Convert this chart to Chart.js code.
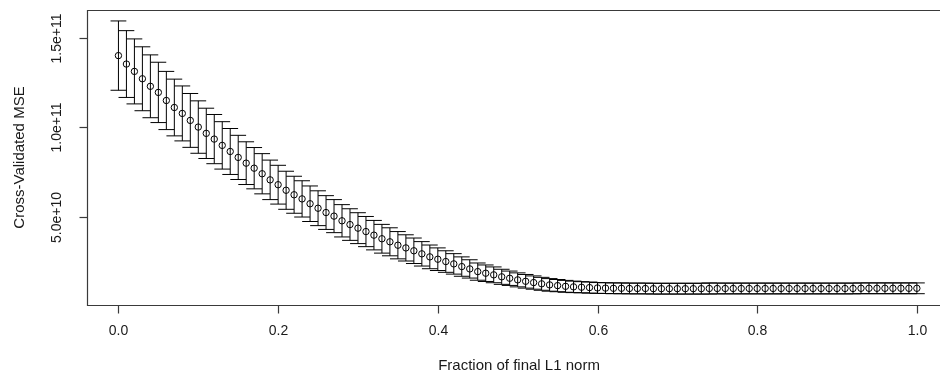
<!DOCTYPE html>
<html>
<head>
<meta charset="utf-8">
<title>Cross-validated MSE</title>
<script src="https://cdn.jsdelivr.net/npm/chart.js@4.4.1/dist/chart.umd.min.js"></script>
<style>
  html, body { margin: 0; padding: 0; background: #fff; }
  #wrap { position: relative; width: 940px; height: 377px; }
</style>
</head>
<body>
<div id="wrap"><canvas id="cvChart" width="940" height="377"></canvas></div>
<script>
// fraction of final L1 norm
const fractions = [
  0.00, 0.01, 0.02, 0.03, 0.04, 0.05, 0.06, 0.07, 0.08, 0.09,
  0.10, 0.11, 0.12, 0.13, 0.14, 0.15, 0.16, 0.17, 0.18, 0.19,
  0.20, 0.21, 0.22, 0.23, 0.24, 0.25, 0.26, 0.27, 0.28, 0.29,
  0.30, 0.31, 0.32, 0.33, 0.34, 0.35, 0.36, 0.37, 0.38, 0.39,
  0.40, 0.41, 0.42, 0.43, 0.44, 0.45, 0.46, 0.47, 0.48, 0.49,
  0.50, 0.51, 0.52, 0.53, 0.54, 0.55, 0.56, 0.57, 0.58, 0.59,
  0.60, 0.61, 0.62, 0.63, 0.64, 0.65, 0.66, 0.67, 0.68, 0.69,
  0.70, 0.71, 0.72, 0.73, 0.74, 0.75, 0.76, 0.77, 0.78, 0.79,
  0.80, 0.81, 0.82, 0.83, 0.84, 0.85, 0.86, 0.87, 0.88, 0.89,
  0.90, 0.91, 0.92, 0.93, 0.94, 0.95, 0.96, 0.97, 0.98, 0.99,
  1.00
];

// cross-validated MSE
const cvMse = [
  14.00e10, 13.53e10, 13.12e10, 12.71e10, 12.29e10, 11.95e10, 11.50e10, 11.11e10, 10.78e10, 10.39e10,
  10.02e10, 9.67e10, 9.35e10, 9.00e10, 8.66e10, 8.33e10, 8.01e10, 7.73e10, 7.42e10, 7.08e10,
  6.81e10, 6.50e10, 6.25e10, 6.02e10, 5.75e10, 5.50e10, 5.26e10, 5.06e10, 4.80e10, 4.59e10,
  4.39e10, 4.20e10, 4.00e10, 3.80e10, 3.63e10, 3.44e10, 3.29e10, 3.13e10, 2.96e10, 2.79e10,
  2.66e10, 2.53e10, 2.40e10, 2.25e10, 2.12e10, 1.97e10, 1.88e10, 1.79e10, 1.68e10, 1.60e10,
  1.51e10, 1.43e10, 1.36e10, 1.29e10, 1.23e10, 1.19e10, 1.15e10, 1.12e10, 1.10e10, 1.08e10,
  1.06e10, 1.05e10, 1.04e10, 1.04e10, 1.03e10, 1.03e10, 1.03e10, 1.02e10, 1.02e10, 1.02e10,
  1.02e10, 1.02e10, 1.02e10, 1.02e10, 1.03e10, 1.03e10, 1.03e10, 1.03e10, 1.03e10, 1.03e10,
  1.03e10, 1.03e10, 1.03e10, 1.03e10, 1.03e10, 1.03e10, 1.03e10, 1.03e10, 1.03e10, 1.03e10,
  1.03e10, 1.03e10, 1.03e10, 1.04e10, 1.04e10, 1.04e10, 1.04e10, 1.04e10, 1.04e10, 1.04e10,
  1.04e10
];

// standard error of the CV estimate (half height of each bar)
const cvError = [
  1.93e10, 1.86e10, 1.81e10, 1.78e10, 1.75e10, 1.68e10, 1.62e10, 1.58e10, 1.53e10, 1.50e10,
  1.46e10, 1.40e10, 1.37e10, 1.32e10, 1.28e10, 1.23e10, 1.19e10, 1.15e10, 1.12e10, 1.10e10,
  1.08e10, 1.06e10, 1.03e10, 1.01e10, 0.99e10, 0.97e10, 0.94e10, 0.92e10, 0.90e10, 0.88e10,
  0.86e10, 0.84e10, 0.82e10, 0.80e10, 0.78e10, 0.76e10, 0.73e10, 0.71e10, 0.68e10, 0.66e10,
  0.63e10, 0.60e10, 0.57e10, 0.54e10, 0.51e10, 0.48e10, 0.46e10, 0.44e10, 0.42e10, 0.40e10,
  0.39e10, 0.38e10, 0.37e10, 0.36e10, 0.35e10, 0.34e10, 0.33e10, 0.32e10, 0.31e10, 0.31e10,
  0.30e10, 0.30e10, 0.30e10, 0.30e10, 0.30e10, 0.30e10, 0.30e10, 0.30e10, 0.30e10, 0.30e10,
  0.30e10, 0.30e10, 0.30e10, 0.30e10, 0.31e10, 0.30e10, 0.30e10, 0.30e10, 0.30e10, 0.30e10,
  0.30e10, 0.30e10, 0.30e10, 0.30e10, 0.30e10, 0.30e10, 0.30e10, 0.30e10, 0.30e10, 0.30e10,
  0.30e10, 0.30e10, 0.30e10, 0.30e10, 0.30e10, 0.30e10, 0.30e10, 0.30e10, 0.30e10, 0.30e10,
  0.30e10
];

const xTicks = [0, 0.2, 0.4, 0.6, 0.8, 1.0];
const xTickLabels = ['0.0', '0.2', '0.4', '0.6', '0.8', '1.0'];
const yTicks = [5e10, 1e11, 1.5e11];
const yTickLabels = ['5.0e+10', '1.0e+11', '1.5e+11'];

const xTitle = 'Fraction of final L1 norm';
const yTitle = 'Cross-Validated MSE';

const TICK_FONT = '14px "Liberation Sans", Arial, sans-serif';
const TITLE_FONT = '15px "Liberation Sans", Arial, sans-serif';
const INK = '#000';
const FRAME = '#3a3a3a';

// vertical bar + caps at each point, caps span one step each side
const errorBars = {
  id: 'errorBars',
  beforeDatasetsDraw(chart) {
    const { ctx, chartArea, scales: { x, y } } = chart;
    const capHalf = 1 / fractions.length;
    ctx.save();
    ctx.beginPath();
    ctx.rect(chartArea.left, chartArea.top, chartArea.right - chartArea.left, chartArea.bottom - chartArea.top);
    ctx.clip();
    ctx.strokeStyle = INK;
    ctx.lineWidth = 1;
    fractions.forEach((f, i) => {
      const px = x.getPixelForValue(f);
      const top = y.getPixelForValue(cvMse[i] + cvError[i]);
      const bot = y.getPixelForValue(cvMse[i] - cvError[i]);
      const l = x.getPixelForValue(f - capHalf);
      const r = x.getPixelForValue(f + capHalf);
      ctx.beginPath();
      ctx.moveTo(px, top); ctx.lineTo(px, bot);
      ctx.moveTo(l, top); ctx.lineTo(r, top);
      ctx.moveTo(l, bot); ctx.lineTo(r, bot);
      ctx.stroke();
    });
    ctx.restore();
  }
};

// R-style box, ticks and axis text
const axesFrame = {
  id: 'axesFrame',
  afterDraw(chart) {
    const { ctx, chartArea, scales: { x, y } } = chart;
    const left = Math.round(chartArea.left) + 0.5;
    const top = Math.round(chartArea.top) + 0.5;
    const bottom = Math.round(chartArea.bottom) + 0.5;
    const right = chartArea.right + 20;

    ctx.save();
    ctx.strokeStyle = FRAME;
    ctx.lineWidth = 1.2;
    ctx.beginPath();
    ctx.moveTo(right, top); ctx.lineTo(left, top);
    ctx.lineTo(left, bottom); ctx.lineTo(right, bottom);
    ctx.stroke();

    ctx.fillStyle = '#1a1a1a';
    ctx.textAlign = 'center';
    ctx.textBaseline = 'middle';

    // x axis
    ctx.font = TICK_FONT;
    xTicks.forEach((t, i) => {
      const px = Math.round(x.getPixelForValue(t)) + 0.5;
      ctx.beginPath();
      ctx.moveTo(px, bottom); ctx.lineTo(px, bottom + 8);
      ctx.stroke();
      ctx.fillText(xTickLabels[i], px, 331);
    });
    ctx.font = TITLE_FONT;
    ctx.fillText(xTitle, 519, 366);

    // y axis
    ctx.font = TICK_FONT;
    yTicks.forEach((t, i) => {
      const py = Math.round(y.getPixelForValue(t)) + 0.5;
      ctx.beginPath();
      ctx.moveTo(left, py); ctx.lineTo(left - 8, py);
      ctx.stroke();
      ctx.save();
      ctx.translate(57, py);
      ctx.rotate(-Math.PI / 2);
      ctx.fillText(yTickLabels[i], 0, 0);
      ctx.restore();
    });
    ctx.font = TITLE_FONT;
    ctx.save();
    ctx.translate(20, (chartArea.top + chartArea.bottom) / 2);
    ctx.rotate(-Math.PI / 2);
    ctx.fillText(yTitle, 0, 0);
    ctx.restore();
    ctx.restore();
  }
};

new Chart(document.getElementById('cvChart'), {
  type: 'scatter',
  data: {
    datasets: [{
      label: 'CV MSE',
      data: fractions.map((f, i) => ({ x: f, y: cvMse[i] })),
      pointStyle: 'circle',
      pointRadius: 3.2,
      pointBorderWidth: 1,
      pointBorderColor: INK,
      pointBackgroundColor: 'rgba(0,0,0,0)',
      showLine: false
    }]
  },
  options: {
    responsive: false,
    animation: false,
    events: [],
    layout: { padding: { left: 86.5, top: 10, right: 0, bottom: 72 } },
    scales: {
      x: { type: 'linear', display: false, min: -0.04, max: 1.0227 },
      y: { type: 'linear', display: false, min: 1.1e9, max: 1.654e11 }
    },
    plugins: {
      legend: { display: false },
      tooltip: { enabled: false }
    }
  },
  plugins: [errorBars, axesFrame]
});
</script>
</body>
</html>
